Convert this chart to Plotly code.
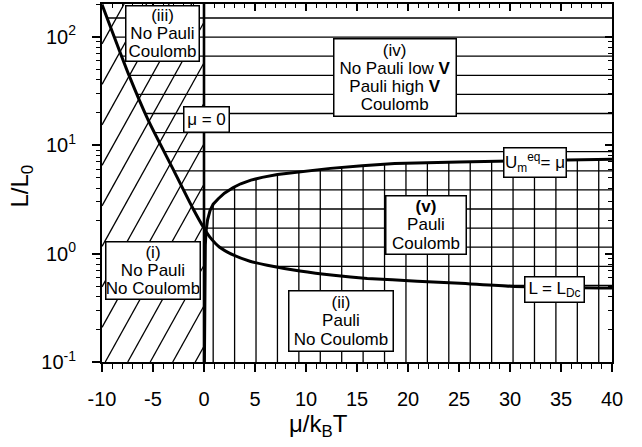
import numpy as np
import plotly.graph_objects as go

# Boundary L = L_Dc (screening length) versus mu/kT
mu_ldc = [-10, -7.42, -5.46, -3.11, -1.15, 0, 0.6, 1.5, 2.86, 4.5, 6.2, 9.4, 12.7, 16, 20.9, 25.1, 30, 40]
L_ldc = [198, 45.6, 16.9, 6.2, 2.67, 1.71, 1.41, 1.15, 0.97, 0.85, 0.78, 0.69, 0.63, 0.59, 0.556, 0.533, 0.50, 0.48]

# Boundary U_m^eq = mu versus mu/kT
mu_um = [0.04, 0.08, 0.13, 0.2, 0.35, 0.6, 0.9, 1.4, 2.0, 2.87, 3.6, 4.6, 5.7, 7.2, 8.95, 12.4, 15.5, 18.7, 25, 32, 40]
L_um = [0.1, 0.5, 1.2, 1.6, 2.05, 2.5, 2.85, 3.2, 3.6, 4.07, 4.4, 4.75, 5.04, 5.35, 5.6, 6.1, 6.45, 6.75, 7.0, 7.2, 7.4]

x_ticks = [-10, -5, 0, 5, 10, 15, 20, 25, 30, 35, 40]
x_tick_text = ["-10", "-5", "0", "5", "10", "15", "20", "25", "30", "35", "40"]
y_ticks = [0.1, 1, 10, 100]
y_tick_text = ["10<sup>-1</sup>", "10<sup>0</sup>", "10<sup>1</sup>", "10<sup>2</sup>"]

FONT = "Liberation Sans, Arial, Helvetica, sans-serif"

# axis ranges (y in decades)
X0, X1 = -10.0, 40.0
Y0, Y1 = -1.0, float(np.log10(200))
PLOT_W, PLOT_H = 510.0, 358.0
PX_PER_X = PLOT_W / (X1 - X0)
PX_PER_DEC = PLOT_H / (Y1 - Y0)

lg_ldc = np.log10(L_ldc)
lg_um = np.log10(L_um)


def seg_trace(xs, lgs, width=1.3):
    return go.Scatter(x=xs, y=[None if v is None else 10 ** v for v in lgs],
                      mode="lines", line=dict(color="black", width=width),
                      hoverinfo="skip", showlegend=False)


# --- hatching: horizontal lines in the Coulomb region (above L = L_Dc)
hx, hy = [], []
step_dec = 19.1 / PX_PER_DEC
lev = Y1 - 14.0 / PX_PER_DEC
while lev > Y0:
    if lev > lg_ldc[-1]:
        xs = float(np.interp(lev, lg_ldc[::-1], np.array(mu_ldc)[::-1]))
        hx += [xs, X1, None]
        hy += [lev, lev, None]
    lev -= step_dec

# --- hatching: vertical lines in the Pauli region (mu > 0, below U_m^eq = mu)
vx, vy = [], []
xv = 0.9
while xv < X1:
    top = float(np.interp(xv, mu_um, lg_um))
    vx += [xv, xv, None]
    vy += [Y0, top, None]
    xv += 2.1

# --- hatching: slanted lines in the non-degenerate region (mu < 0)
dx, dy = [], []
slope = 1.8 * PX_PER_X / PX_PER_DEC      # decades per unit of mu
gap = 22.5 / PX_PER_X
b = -0.86
while b + (Y1 - Y0) / slope > X0:
    xa = max(b, X0)
    xb = min(b + (Y1 - Y0) / slope, 0.0)
    if xb > xa:
        dx += [xa, xb, None]
        dy += [Y0 + slope * (xa - b), Y0 + slope * (xb - b), None]
    b -= gap

fig = go.Figure()
fig.add_trace(seg_trace(dx, dy))
fig.add_trace(seg_trace(hx, hy))
fig.add_trace(seg_trace(vx, vy))

# boundary curves
fig.add_trace(go.Scatter(x=mu_ldc, y=L_ldc, mode="lines",
                         line=dict(color="black", width=3, shape="spline", smoothing=0.5),
                         hoverinfo="skip", showlegend=False))
fig.add_trace(go.Scatter(x=mu_um, y=L_um, mode="lines",
                         line=dict(color="black", width=3),
                         hoverinfo="skip", showlegend=False))

# mu = 0 line
fig.add_shape(type="line", x0=0, x1=0, y0=0, y1=1, xref="x", yref="paper",
              line=dict(color="black", width=2.6))

# placeholder trace so the mirrored frame axes are drawn
fig.add_trace(go.Scatter(x=[None], y=[None], xaxis="x2", yaxis="y2",
                         showlegend=False, hoverinfo="skip"))


def box(lines, x, ylog, w, h, size=17):
    text = "<br>".join(f"<span style='font-size:{size}px'>{ln}</span>" for ln in lines)
    fig.add_annotation(x=x, y=ylog, xref="x", yref="y", text=text, showarrow=False,
                       font=dict(family=FONT, size=14, color="black"),
                       bgcolor="white", bordercolor="black", borderwidth=1.5,
                       borderpad=0, width=w, height=h, align="center", valign="middle",
                       xanchor="center", yanchor="middle")


box(["(iii)", "No Pauli", "Coulomb"], -4.04, 2.029, 72, 54)
box(["\u03bc = 0"], 0.27, 1.236, 44, 24)
box(["(iv)", "No Pauli low <b>V</b>", "Pauli high <b>V</b>", "Coulomb"], 18.74, 1.623, 121, 76)
box(["U<sub>m</sub><sup>eq</sup>= \u03bc"], 32.46, 0.839, 61, 28)
box(["<b>(v)</b>", "Pauli", "Coulomb"], 21.78, 0.263, 79, 57)
box(["(i)", "No Pauli", "No Coulomb"], -4.97, -0.156, 93, 56)
box(["(ii)", "Pauli", "No Coulomb"], 13.45, -0.622, 103, 59)
box(["L = L<sub>Dc</sub>"], 34.37, -0.332, 58, 24)

# axis titles
fig.add_annotation(x=(318 - 102) / PLOT_W, y=-63 / PLOT_H, xref="paper", yref="paper",
                   xanchor="center", yanchor="middle",
                   text="\u03bc/k<sub>B</sub>T", showarrow=False,
                   font=dict(family=FONT, size=24, color="black"))
fig.add_annotation(x=(22 - 102) / PLOT_W, y=0.49, xref="paper", yref="paper",
                   xanchor="center", yanchor="middle",
                   text="L/L<sub>0</sub>", showarrow=False, textangle=-90,
                   font=dict(family=FONT, size=24, color="black"))

minor_y = [m * 10.0 ** e for e in range(-1, 3) for m in range(2, 10) if m * 10.0 ** e <= 200]

axis_common = dict(showline=True, linewidth=2, linecolor="black", showgrid=False,
                   zeroline=False, tickcolor="black", tickwidth=1.5)

fig.update_layout(
    width=642, height=447,
    margin=dict(l=102, r=30, t=4, b=85),
    plot_bgcolor="white", paper_bgcolor="white",
    showlegend=False,
    font=dict(family=FONT, color="black"),
    xaxis=dict(range=[X0, X1], tickmode="array", tickvals=x_ticks, ticktext=x_tick_text,
               ticks="outside", ticklen=8, ticklabelstandoff=10,
               tickfont=dict(size=20, family=FONT),
               minor=dict(tickmode="linear", tick0=0, dtick=1, ticks="outside",
                          ticklen=4.5, tickwidth=1.2, tickcolor="black", showgrid=False),
               **axis_common),
    yaxis=dict(type="log", range=[Y0, Y1], tickmode="array", tickvals=y_ticks,
               ticktext=y_tick_text, ticks="outside", ticklen=8, ticklabelstandoff=12,
               tickfont=dict(size=20, family=FONT),
               minor=dict(tickmode="array", tickvals=minor_y, ticks="outside",
                          ticklen=4.5, tickwidth=1.2, tickcolor="black", showgrid=False),
               **axis_common),
    xaxis2=dict(overlaying="x", side="top", range=[X0, X1], tickmode="array",
                tickvals=x_ticks, ticks="inside", ticklen=7, showticklabels=False,
                minor=dict(tickmode="linear", tick0=0, dtick=1, ticks="inside",
                           ticklen=4, tickwidth=1.2, tickcolor="black", showgrid=False),
                **axis_common),
    yaxis2=dict(overlaying="y", side="right", type="log", range=[Y0, Y1],
                tickmode="array", tickvals=y_ticks, ticks="inside", ticklen=7,
                showticklabels=False,
                minor=dict(tickmode="array", tickvals=minor_y, ticks="inside",
                           ticklen=4, tickwidth=1.2, tickcolor="black", showgrid=False),
                **axis_common),
)

fig.write_html("out.html")
